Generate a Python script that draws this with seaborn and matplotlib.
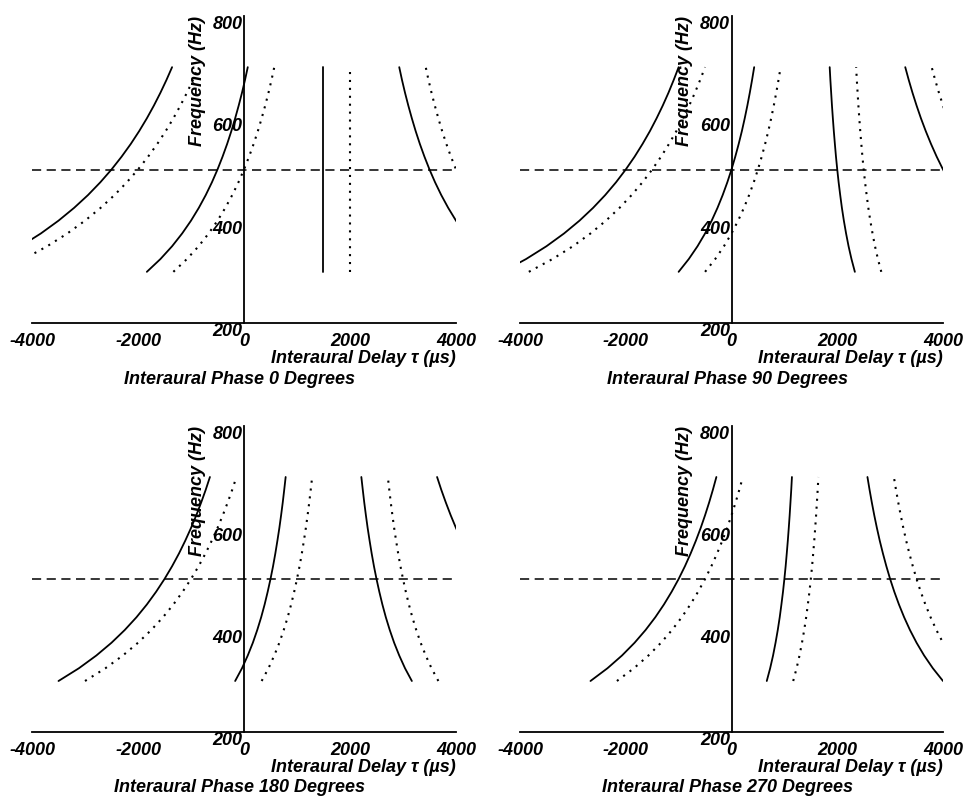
import matplotlib
matplotlib.use("Agg")
import matplotlib.pyplot as plt
import pandas as pd
import seaborn as sns

# ---------------- data ----------------
FREQ = [300, 325, 350, 375, 400, 425, 450, 475, 500,
        525, 550, 575, 600, 625, 650, 675, 700]

PHASE0_SOLID = [
    [-5167, -4654, -4214, -3833, -3500, -3206, -2944, -2711, -2500,
     -2310, -2136, -1978, -1833, -1700, -1577, -1463, -1357],
    [-1833, -1577, -1357, -1167, -1000, -853, -722, -605, -500,
     -405, -318, -239, -167, -100, -38, 19, 71],
    [1500, 1500, 1500, 1500, 1500, 1500, 1500, 1500, 1500,
     1500, 1500, 1500, 1500, 1500, 1500, 1500, 1500],
    [4833, 4577, 4357, 4167, 4000, 3853, 3722, 3605, 3500,
     3405, 3318, 3239, 3167, 3100, 3038, 2981, 2929],
]
PHASE0_DOTTED = [
    [-4667, -4154, -3714, -3333, -3000, -2706, -2444, -2211, -2000,
     -1810, -1636, -1478, -1333, -1200, -1077, -963, -857],
    [-1333, -1077, -857, -667, -500, -353, -222, -105, 0,
     95, 182, 261, 333, 400, 462, 519, 571],
    [2000, 2000, 2000, 2000, 2000, 2000, 2000, 2000, 2000,
     2000, 2000, 2000, 2000, 2000, 2000, 2000, 2000],
    [5333, 5077, 4857, 4667, 4500, 4353, 4222, 4105, 4000,
     3905, 3818, 3739, 3667, 3600, 3538, 3481, 3429],
]
PHASE90_SOLID = [
    [-4333, -3885, -3500, -3167, -2875, -2618, -2389, -2184, -2000,
     -1833, -1682, -1543, -1417, -1300, -1192, -1093, -1000],
    [-1000, -808, -643, -500, -375, -265, -167, -79, 0,
     71, 136, 196, 250, 300, 346, 389, 429],
    [2333, 2269, 2214, 2167, 2125, 2088, 2056, 2026, 2000,
     1976, 1955, 1935, 1917, 1900, 1885, 1870, 1857],
    [5667, 5346, 5071, 4833, 4625, 4441, 4278, 4132, 4000,
     3881, 3773, 3674, 3583, 3500, 3423, 3352, 3286],
]
PHASE90_DOTTED = [
    [-3833, -3385, -3000, -2667, -2375, -2118, -1889, -1684, -1500,
     -1333, -1182, -1043, -917, -800, -692, -593, -500],
    [-500, -308, -143, 0, 125, 235, 333, 421, 500,
     571, 636, 696, 750, 800, 846, 889, 929],
    [2833, 2769, 2714, 2667, 2625, 2588, 2556, 2526, 2500,
     2476, 2455, 2435, 2417, 2400, 2385, 2370, 2357],
    [6167, 5846, 5571, 5333, 5125, 4941, 4778, 4632, 4500,
     4381, 4273, 4174, 4083, 4000, 3923, 3852, 3786],
]
PHASE180_SOLID = [
    [-3500, -3115, -2786, -2500, -2250, -2029, -1833, -1658, -1500,
     -1357, -1227, -1109, -1000, -900, -808, -722, -643],
    [-167, -38, 71, 167, 250, 324, 389, 447, 500,
     548, 591, 630, 667, 700, 731, 759, 786],
    [3167, 3038, 2929, 2833, 2750, 2676, 2611, 2553, 2500,
     2452, 2409, 2370, 2333, 2300, 2269, 2241, 2214],
    [6500, 6115, 5786, 5500, 5250, 5029, 4833, 4658, 4500,
     4357, 4227, 4109, 4000, 3900, 3808, 3722, 3643],
]
PHASE180_DOTTED = [
    [-3000, -2615, -2286, -2000, -1750, -1529, -1333, -1158, -1000,
     -857, -727, -609, -500, -400, -308, -222, -143],
    [333, 462, 571, 667, 750, 824, 889, 947, 1000,
     1048, 1091, 1130, 1167, 1200, 1231, 1259, 1286],
    [3667, 3538, 3429, 3333, 3250, 3176, 3111, 3053, 3000,
     2952, 2909, 2870, 2833, 2800, 2769, 2741, 2714],
]
PHASE270_SOLID = [
    [-2667, -2346, -2071, -1833, -1625, -1441, -1278, -1132, -1000,
     -881, -773, -674, -583, -500, -423, -352, -286],
    [667, 731, 786, 833, 875, 912, 944, 974, 1000,
     1024, 1045, 1065, 1083, 1100, 1115, 1130, 1143],
    [4000, 3808, 3643, 3500, 3375, 3265, 3167, 3079, 3000,
     2929, 2864, 2804, 2750, 2700, 2654, 2611, 2571],
]
PHASE270_DOTTED = [
    [-2167, -1846, -1571, -1333, -1125, -941, -778, -632, -500,
     -381, -273, -174, -83, 0, 77, 148, 214],
    [1167, 1231, 1286, 1333, 1375, 1412, 1444, 1474, 1500,
     1524, 1545, 1565, 1583, 1600, 1615, 1630, 1643],
    [4500, 4308, 4143, 4000, 3875, 3765, 3667, 3579, 3500,
     3429, 3364, 3304, 3250, 3200, 3154, 3111, 3071],
]

REFERENCE_FREQ = 500
X_TICKS = [-4000, -2000, 0, 2000, 4000]
X_TICK_LABELS = ["-4000", "-2000", "0", "2000", "4000"]
Y_TICKS = [200, 400, 600, 800]
Y_TICK_LABELS = ["200", "400", "600", "800"]
X_LABEL = "Interaural Delay \u03c4 (\u00b5s)"
Y_LABEL = "Frequency (Hz)"
TITLES = [
    "Interaural Phase 0 Degrees",
    "Interaural Phase 90 Degrees",
    "Interaural Phase 180 Degrees",
    "Interaural Phase 270 Degrees",
]
PANELS = [
    (PHASE0_SOLID, PHASE0_DOTTED),
    (PHASE90_SOLID, PHASE90_DOTTED),
    (PHASE180_SOLID, PHASE180_DOTTED),
    (PHASE270_SOLID, PHASE270_DOTTED),
]

# ---------------- styling ----------------
sns.set_style("white")
plt.rcParams["font.family"] = ["Liberation Sans", "DejaVu Sans"]
plt.rcParams["text.color"] = "black"
plt.rcParams["axes.labelcolor"] = "black"
plt.rcParams["xtick.color"] = "black"
plt.rcParams["ytick.color"] = "black"
FONT = dict(fontsize=13, fontweight="bold", fontstyle="italic", color="black")

fig = plt.figure(figsize=(9.67, 8.0), dpi=100)
W, H = 967.0, 800.0
# axes boxes in pixels: (left, top, right, bottom)
BOXES = [
    (32, 16, 456, 323),
    (520, 16, 943, 323),
    (32, 426, 456, 732),
    (520, 426, 943, 732),
]


def make_frame(solid, dotted):
    rows = []
    cid = 0
    for kind, curves in (("solid", solid), ("dotted", dotted)):
        for xs in curves:
            for x, f in zip(xs, FREQ):
                rows.append({"tau": x, "freq": f, "curve": cid, "kind": kind})
            cid += 1
    return pd.DataFrame(rows)


for (solid, dotted), title, (l, t, r, b) in zip(PANELS, TITLES, BOXES):
    ax = fig.add_axes([l / W, 1 - b / H, (r - l) / W, (b - t) / H])
    df = make_frame(solid, dotted)
    df_s = df[df["kind"] == "solid"]
    df_d = df[df["kind"] == "dotted"]
    sns.lineplot(
        data=df_s, x="tau", y="freq", units="curve", estimator=None,
        sort=False, color="black", linewidth=1.3, legend=False, ax=ax,
    )
    sns.lineplot(
        data=df_d, x="tau", y="freq", units="curve", estimator=None,
        sort=False, color="black", linewidth=1.5, legend=False, ax=ax,
        linestyle=(0, (1, 2.8)),
    )
    ax.axhline(REFERENCE_FREQ, color="black", linewidth=1.1,
               linestyle=(0, (6, 3.6)))

    ax.set_xlim(-4000, 4000)
    ax.set_ylim(200, 800)
    ax.set_facecolor("white")
    for s in ("top", "right"):
        ax.spines[s].set_visible(False)
    ax.spines["left"].set_position(("data", 0))
    for s in ("left", "bottom"):
        ax.spines[s].set_color("black")
        ax.spines[s].set_linewidth(1.3)

    ax.set_xticks(X_TICKS)
    ax.set_xticklabels(X_TICK_LABELS, **FONT)
    ax.set_yticks(Y_TICKS)
    ax.set_yticklabels(Y_TICK_LABELS, va="top", **FONT)
    ax.tick_params(axis="both", direction="in", length=4, width=1.2,
                   colors="black")
    ax.tick_params(axis="x", pad=7.5)
    ax.tick_params(axis="y", pad=1)
    ax.set_xlabel("")
    ax.set_ylabel("")

    ax.text(0.39, 1.0, Y_LABEL, transform=ax.transAxes, rotation=90,
            ha="center", va="top", zorder=5, **FONT)
    ax.text(1.0, -0.088, X_LABEL, transform=ax.transAxes,
            ha="right", va="top", **FONT)
    ax.text(0.49, -0.155, title, transform=ax.transAxes,
            ha="center", va="top", **FONT)

fig.savefig("out.png", dpi=100, facecolor="white")
